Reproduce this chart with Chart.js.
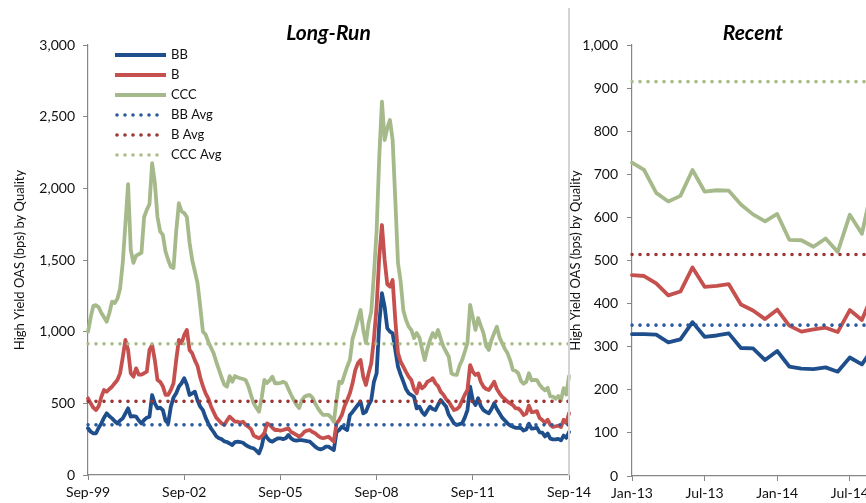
<!DOCTYPE html>
<html>
<head>
<meta charset="utf-8">
<script src="https://cdn.jsdelivr.net/npm/chart.js@4.4.1/dist/chart.umd.min.js"></script>
<style>
  html, body { margin:0; padding:0; background:#fff; overflow:hidden; width:866px; height:503px; }
  #left { position:absolute; left:0; top:0; }
  #right { position:absolute; left:562px; top:0; }
</style>
</head>
<body>
<canvas id="left" width="600" height="503"></canvas>
<canvas id="right" width="330" height="503"></canvas>
<script>
// ---------- DATA ----------
const seriesNames = ['BB', 'B', 'CCC', 'BB Avg', 'B Avg', 'CCC Avg'];
const longRunStart = [1999, 8];   // Sep-99
const recentStart = [2013, 0];    // Jan-13

const longBB = [
  326,302,291,291,330,360,400,430,410,395,375,360,
  380,395,430,465,407,410,407,380,360,384,400,407,
  558,500,465,470,453,380,360,477,540,570,616,640,
  675,630,558,570,581,520,477,453,400,360,326,300,
  270,256,250,235,230,220,209,230,233,230,225,210,
  198,190,186,170,151,200,291,260,240,233,245,256,
  256,250,256,279,255,244,240,244,244,240,236,233,
  215,198,185,179,185,198,198,185,174,300,314,337,
  325,314,419,440,465,490,512,430,440,488,523,650,
  709,1058,1268,1174,1023,1000,988,872,756,700,651,600,
  570,558,546,465,477,440,419,450,477,460,453,490,
  523,500,477,420,390,360,349,355,360,400,453,616,
  520,488,535,480,453,440,430,460,500,460,430,400,
  380,360,345,337,329,329,328,310,317,357,323,326,
  331,297,296,269,290,254,249,248,252,242,275,259,
  300
];
const longB = [
  535,500,470,453,480,546,593,581,600,616,640,663,
  709,820,942,872,709,686,744,700,700,710,721,872,
  907,802,663,650,620,560,560,593,640,800,942,919,
  977,1012,872,849,800,760,680,620,570,535,480,440,
  400,380,360,349,380,407,390,372,372,365,372,350,
  337,320,275,265,256,270,291,360,349,330,314,314,
  310,314,320,326,300,291,280,267,280,302,310,314,
  300,291,275,262,256,262,267,250,233,360,384,419,
  480,523,570,640,730,780,802,686,628,709,780,950,
  1174,1523,1744,1500,1330,1314,1360,1081,850,790,756,720,
  686,663,600,570,640,605,620,651,660,675,640,620,
  580,560,530,512,480,453,460,477,520,560,593,767,
  720,698,709,650,616,600,593,620,651,600,570,545,
  530,512,500,488,466,464,447,419,428,484,439,441,
  445,398,384,364,386,349,335,340,344,334,385,362,
  430
];
const longCCC = [
  1000,1100,1180,1185,1170,1130,1100,1070,1130,1210,1200,1230,
  1300,1480,1750,2030,1570,1480,1530,1540,1550,1800,1850,1890,
  2175,2040,1800,1700,1675,1560,1500,1453,1444,1700,1896,1840,
  1827,1800,1620,1500,1420,1338,1174,1000,980,930,890,850,
  790,735,680,630,616,690,651,690,680,675,670,663,
  620,558,500,470,442,540,663,642,660,686,640,640,
  642,650,642,600,560,523,490,467,520,546,555,558,
  540,500,467,440,419,420,419,400,372,520,651,642,
  700,756,802,950,1012,1081,1151,1012,921,1060,1140,1400,
  1700,2221,2605,2337,2420,2477,2337,1919,1479,1350,1150,1081,
  1035,1012,955,990,960,880,802,880,942,990,960,1012,
  950,895,860,825,709,700,698,760,802,860,921,1186,
  1100,1012,1095,1040,990,900,872,942,990,1035,960,919,
  880,849,800,733,727,710,657,637,650,710,660,663,
  662,630,607,591,608,548,547,532,551,520,606,562,
  690
];

const recentBB  = [329,329,328,310,317,357,323,326,331,297,296,269,290,254,249,248,252,242,275,259,300];
const recentB   = [466,464,447,419,428,484,439,441,445,398,384,364,386,349,335,340,344,334,385,362,430];
const recentCCC = [727,710,657,637,650,710,660,663,662,630,607,591,608,548,547,532,551,520,606,562,690];

const avgBB = 350;
const avgB = 514;
const avgCCC = 915;

const longRunTicks = [0, 500, 1000, 1500, 2000, 2500, 3000];
const recentTicks = [0, 100, 200, 300, 400, 500, 600, 700, 800, 900, 1000];
const longRunLabelEvery = 36;
const recentLabelEvery = 6;
const yTitle = 'High Yield OAS (bps) by Quality';
const titles = ['Long-Run', 'Recent'];

// ---------- HELPERS ----------
const MONTHS = ['Jan','Feb','Mar','Apr','May','Jun','Jul','Aug','Sep','Oct','Nov','Dec'];
function monthLabels(start, count) {
  const out = [];
  for (let i = 0; i < count; i++) {
    const t = start[0] * 12 + start[1] + i;
    const y = Math.floor(t / 12), m = t % 12;
    out.push(MONTHS[m] + '-' + String(y % 100).padStart(2, '0'));
  }
  return out;
}
const longRunLabels = monthLabels(longRunStart, longBB.length);
const recentLabels = monthLabels(recentStart, recentBB.length);

const COL = {
  BB: '#1F4E8C', B: '#C5504E', CCC: '#A6B98A',
  BBavg: '#2A5A9E', Bavg: '#9B3533', CCCavg: '#A9BD8A'
};
const FONT = 'Lato, "Noto Sans", sans-serif';
Chart.defaults.font.family = FONT;
Chart.defaults.color = '#111';

function makeDatasets(labels, bb, b, ccc) {
  const first = labels[0], last = labels[labels.length - 1];
  const solid = (label, data, color, order) => ({
    label, data, borderColor: color, backgroundColor: color, borderWidth: 3.8,
    pointRadius: 0, tension: 0, borderJoinStyle: 'round', borderCapStyle: 'round', order
  });
  const dotted = (label, v, color, order) => ({
    label, data: [{x: first, y: v}, {x: last, y: v}], borderColor: color, backgroundColor: color,
    borderWidth: 3.6, borderDash: [0, 8], borderCapStyle: 'round', pointRadius: 0, order
  });
  return [
    solid(seriesNames[0], bb, COL.BB, 6),
    solid(seriesNames[1], b, COL.B, 5),
    solid(seriesNames[2], ccc, COL.CCC, 4),
    dotted(seriesNames[3], avgBB, COL.BBavg, 3),
    dotted(seriesNames[4], avgB, COL.Bavg, 2),
    dotted(seriesNames[5], avgCCC, COL.CCCavg, 1)
  ];
}

const panelTitle = {
  id: 'panelTitle',
  afterDraw(chart, args, opts) {
    const ctx = chart.ctx, a = chart.chartArea;
    ctx.save();
    ctx.font = 'italic bold 21px ' + FONT;
    ctx.fillStyle = '#000';
    ctx.textAlign = 'center';
    ctx.textBaseline = 'middle';
    ctx.fillText(opts.text, (a.left + a.right) / 2, 33);
    if (opts.divider) {
      ctx.strokeStyle = '#D4D4D4';
      ctx.lineWidth = 2;
      ctx.beginPath();
      ctx.moveTo(a.right, 8);
      ctx.lineTo(a.right, a.bottom);
      ctx.stroke();
    }
    ctx.restore();
  }
};

const customLegend = {
  id: 'customLegend',
  afterDraw(chart, args, opts) {
    if (!opts.show) return;
    const ctx = chart.ctx, a = chart.chartArea;
    const x0 = a.left + 27, y0 = a.top + 10;
    ctx.save();
    chart.data.datasets.forEach((ds, i) => {
      const y = y0 + i * 20;
      ctx.strokeStyle = ds.borderColor;
      ctx.lineWidth = ds.borderWidth;
      ctx.lineCap = ds.borderDash ? 'round' : 'butt';
      ctx.setLineDash(ds.borderDash || []);
      ctx.beginPath();
      if (ds.borderDash) { ctx.moveTo(x0 + 2, y); ctx.lineTo(x0 + 45, y); }
      else { ctx.moveTo(x0, y); ctx.lineTo(x0 + 51, y); }
      ctx.stroke();
      ctx.setLineDash([]);
      ctx.fillStyle = '#111';
      ctx.font = '13px ' + FONT;
      ctx.textAlign = 'left';
      ctx.textBaseline = 'middle';
      ctx.fillText(ds.label, x0 + 56, y);
    });
    ctx.restore();
  }
};

function makeChart(id, labels, datasets, opt) {
  return new Chart(document.getElementById(id), {
    type: 'line',
    data: { labels, datasets },
    plugins: [panelTitle, customLegend],
    options: {
      responsive: false,
      animation: false,
      devicePixelRatio: 1,
      layout: { padding: { top: 45, right: opt.padRight, left: 0, bottom: 0 } },
      plugins: {
        legend: { display: false },
        tooltip: { enabled: false },
        title: { display: false },
        panelTitle: { text: opt.title, divider: opt.divider },
        customLegend: { show: opt.legend }
      },
      scales: {
        x: {
          type: 'category',
          offset: false,
          grid: { display: true, drawOnChartArea: false, drawTicks: true, tickLength: 5, color: '#868686', lineWidth: 1 },
          border: { display: true, color: '#868686', width: 1.2 },
          afterBuildTicks(scale) { scale.ticks = scale.ticks.filter(t => t.value % opt.every === 0); },
          afterFit(scale) { scale.height = opt.xHeight; scale.paddingLeft = 0; scale.paddingRight = 0; },
          ticks: {
            autoSkip: false, maxRotation: 0, minRotation: 0, padding: 4,
            font: { size: 14 }, color: '#111',
            callback(v) { return this.getLabelForValue(v); }
          }
        },
        y: {
          min: opt.ticks[0], max: opt.ticks[opt.ticks.length - 1],
          afterBuildTicks(scale) { scale.ticks = opt.ticks.map(v => ({ value: v })); },
          afterFit(scale) { scale.width = opt.yWidth; },
          grid: { display: true, drawOnChartArea: false, drawTicks: true, tickLength: 5, color: '#868686', lineWidth: 1 },
          border: { display: true, color: '#868686', width: 1.2 },
          ticks: {
            padding: opt.tickPad, font: { size: 14 }, color: '#111',
            callback(v) { return Number(v).toLocaleString('en-US'); }
          },
          title: {
            display: true, text: yTitle, color: '#111',
            font: { size: 13 }, padding: { top: opt.titlePad, bottom: 0 }
          }
        }
      }
    }
  });
}

makeChart('left', longRunLabels, makeDatasets(longRunLabels, longBB, longB, longCCC), {
  title: titles[0], divider: true, legend: true, padRight: 31, every: longRunLabelEvery,
  ticks: longRunTicks, yWidth: 88, xHeight: 28, tickPad: 8, titlePad: 12
});
makeChart('right', recentLabels, makeDatasets(recentLabels, recentBB, recentB, recentCCC), {
  title: titles[1], divider: false, legend: false, padRight: 18, every: recentLabelEvery,
  ticks: recentTicks, yWidth: 70, xHeight: 27, tickPad: 9, titlePad: 6
});
</script>
</body>
</html>
